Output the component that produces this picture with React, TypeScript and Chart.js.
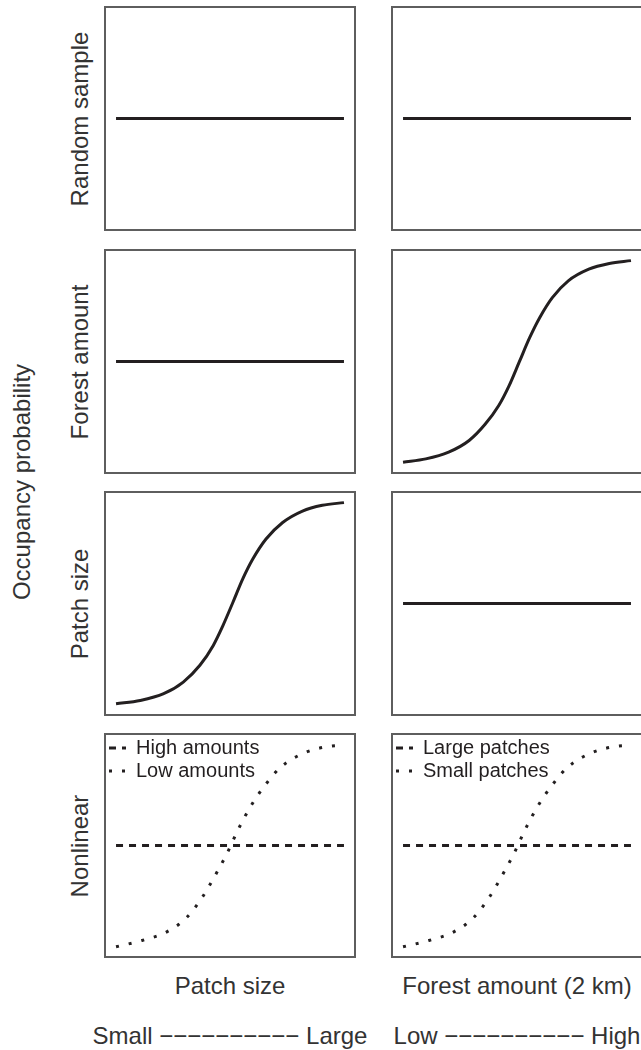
import React, { useEffect, useRef } from "react";
import { Chart, registerables } from "chart.js";

Chart.register(...registerables);

// ---------------- data ----------------
const rowLabels = ["Random sample", "Forest amount", "Patch size", "Nonlinear"];
const columnTitles = ["Patch size", "Forest amount (2 km)"];
const rangeLabels = ["Small −−−−−−−−−− Large", "Low −−−−−−−−−− High"];
const yAxisTitle = "Occupancy probability";

const flatX = [0, 1];
const flatY = [0.5, 0.5];

// row 2, right column: occupancy vs forest amount
const forestCurveX = [0, 0.1, 0.2, 0.29, 0.36, 0.42, 0.465, 0.51, 0.555, 0.6, 0.655, 0.725, 0.815, 0.905, 1.0];
const forestCurveY = [0.008, 0.024, 0.057, 0.114, 0.193, 0.285, 0.381, 0.498, 0.615, 0.715, 0.812, 0.894, 0.951, 0.979, 0.993];

// row 3, left column: occupancy vs patch size
const patchCurveX = [0, 0.106, 0.209, 0.295, 0.368, 0.426, 0.469, 0.513, 0.556, 0.6, 0.658, 0.731, 0.818, 0.905, 1.0];
const patchCurveY = [0.01, 0.026, 0.059, 0.116, 0.198, 0.294, 0.392, 0.506, 0.62, 0.717, 0.815, 0.896, 0.952, 0.98, 0.993];

// row 4: nonlinear (dotted) curves
const nonlinPatchX = [0, 0.114, 0.221, 0.31, 0.379, 0.436, 0.489, 0.535, 0.589, 0.652, 0.722, 0.817, 0.929, 1.0];
const nonlinPatchY = [0.005, 0.036, 0.077, 0.148, 0.248, 0.356, 0.466, 0.576, 0.688, 0.792, 0.882, 0.948, 0.984, 0.99];
const nonlinForestX = [0, 0.114, 0.221, 0.31, 0.379, 0.436, 0.489, 0.535, 0.589, 0.652, 0.722, 0.817, 0.929, 1.0];
const nonlinForestY = [0.005, 0.036, 0.077, 0.148, 0.248, 0.356, 0.466, 0.576, 0.688, 0.792, 0.882, 0.948, 0.984, 0.99];

const legendPatch = ["High amounts", "Low amounts"];
const legendForest = ["Large patches", "Small patches"];

// ---------------- layout / style ----------------
const COL_X = [104, 391];
const ROW_Y = [6, 249, 491, 733];
const PANEL_W = 252;
const PANEL_H = 225;
const BORDER = 2;
const INK = "#231f20";
const FRAME = "#5e5e5e";
const TEXT = "#333333";
const FONT = "'Liberation Sans', Arial, Helvetica, sans-serif";

const pts = (xs: number[], ys: number[]) => xs.map((x, i) => ({ x, y: ys[i] }));

const solid = (xs: number[], ys: number[], label = "") => ({
  label,
  data: pts(xs, ys),
  borderColor: INK,
  backgroundColor: INK,
  borderWidth: 3,
  borderDash: [] as number[],
  pointRadius: 0,
  fill: false,
  cubicInterpolationMode: "monotone" as const,
});

const dashed = (xs: number[], ys: number[], label: string) => ({
  ...solid(xs, ys, label),
  borderDash: [7, 6],
});

const dotted = (xs: number[], ys: number[], label: string) => ({
  ...solid(xs, ys, label),
  borderWidth: 3,
  borderDash: [3, 10],
});

const panels = [
  [{ datasets: [solid(flatX, flatY)] }, { datasets: [solid(flatX, flatY)] }],
  [{ datasets: [solid(flatX, flatY)] }, { datasets: [solid(forestCurveX, forestCurveY)] }],
  [{ datasets: [solid(patchCurveX, patchCurveY)] }, { datasets: [solid(flatX, flatY)] }],
  [
    {
      legend: true,
      datasets: [dashed(flatX, flatY, legendPatch[0]), dotted(nonlinPatchX, nonlinPatchY, legendPatch[1])],
    },
    {
      legend: true,
      datasets: [dashed(flatX, flatY, legendForest[0]), dotted(nonlinForestX, nonlinForestY, legendForest[1])],
    },
  ],
];

function Panel({ left, top, datasets, legend }: any) {
  const ref = useRef<HTMLCanvasElement>(null);
  useEffect(() => {
    const chart = new Chart(ref.current as HTMLCanvasElement, {
      type: "line",
      data: { datasets },
      options: {
        animation: false,
        responsive: false,
        events: [],
        layout: { padding: 0 },
        scales: {
          x: { type: "linear", min: -0.044, max: 1.044, display: false },
          y: { type: "linear", min: -0.04, max: 1.04, display: false },
        },
        plugins: {
          tooltip: { enabled: false },
          legend: {
            display: !!legend,
            position: "chartArea" as any,
            align: "start",
            labels: {
              usePointStyle: true,
              pointStyle: "line",
              pointStyleWidth: 17,
              padding: 3,
              color: INK,
              font: { family: FONT, size: 20 },
              generateLabels: (ch: any) => {
                const items = Chart.defaults.plugins.legend.labels.generateLabels(ch);
                return items.map((it: any) => {
                  const ds: any = ch.data.datasets[it.datasetIndex];
                  return {
                    ...it,
                    pointStyle: "line",
                    lineDash: ds.borderDash,
                    lineWidth: ds.borderWidth,
                    strokeStyle: ds.borderColor,
                    fillStyle: ds.borderColor,
                    lineCap: "butt",
                  };
                });
              },
            },
          },
        },
      } as any,
    });
    return () => chart.destroy();
  }, []);
  return (
    <div
      style={{
        position: "absolute",
        left,
        top,
        width: PANEL_W,
        height: PANEL_H,
        border: `${BORDER}px solid ${FRAME}`,
        boxSizing: "border-box",
        background: "#fff",
      }}
    >
      <canvas
        ref={ref}
        width={PANEL_W - 2 * BORDER}
        height={PANEL_H - 2 * BORDER}
        style={{ display: "block", width: PANEL_W - 2 * BORDER, height: PANEL_H - 2 * BORDER }}
      />
    </div>
  );
}

const textBase: React.CSSProperties = {
  position: "absolute",
  fontFamily: FONT,
  fontSize: 24,
  lineHeight: "24px",
  height: 24,
  color: TEXT,
  textAlign: "center",
  whiteSpace: "nowrap",
};

export default function App() {
  return (
    <div
      style={{
        position: "absolute",
        left: 0,
        top: 0,
        width: 641,
        height: 1050,
        overflow: "hidden",
        background: "#fff",
      }}
    >
      {panels.map((row, r) =>
        row.map((p: any, c) => (
          <Panel key={`${r}-${c}`} left={COL_X[c]} top={ROW_Y[r]} datasets={p.datasets} legend={p.legend} />
        ))
      )}
      {rowLabels.map((t, r) => (
        <div
          key={t}
          style={{
            ...textBase,
            width: PANEL_H,
            left: 79 - PANEL_H / 2,
            top: ROW_Y[r] + PANEL_H / 2 - 12,
            transform: "rotate(-90deg)",
          }}
        >
          {t}
        </div>
      ))}
      <div
        style={{
          ...textBase,
          width: 320,
          left: 22 - 160,
          top: 482 - 12,
          transform: "rotate(-90deg)",
        }}
      >
        {yAxisTitle}
      </div>
      {columnTitles.map((t, c) => (
        <div key={t} style={{ ...textBase, width: PANEL_W, left: COL_X[c], top: 974 }}>
          {t}
        </div>
      ))}
      {rangeLabels.map((t, c) => (
        <div key={t} style={{ ...textBase, width: PANEL_W + 40, left: COL_X[c] - 20, top: 1024 }}>
          {t}
        </div>
      ))}
    </div>
  );
}
